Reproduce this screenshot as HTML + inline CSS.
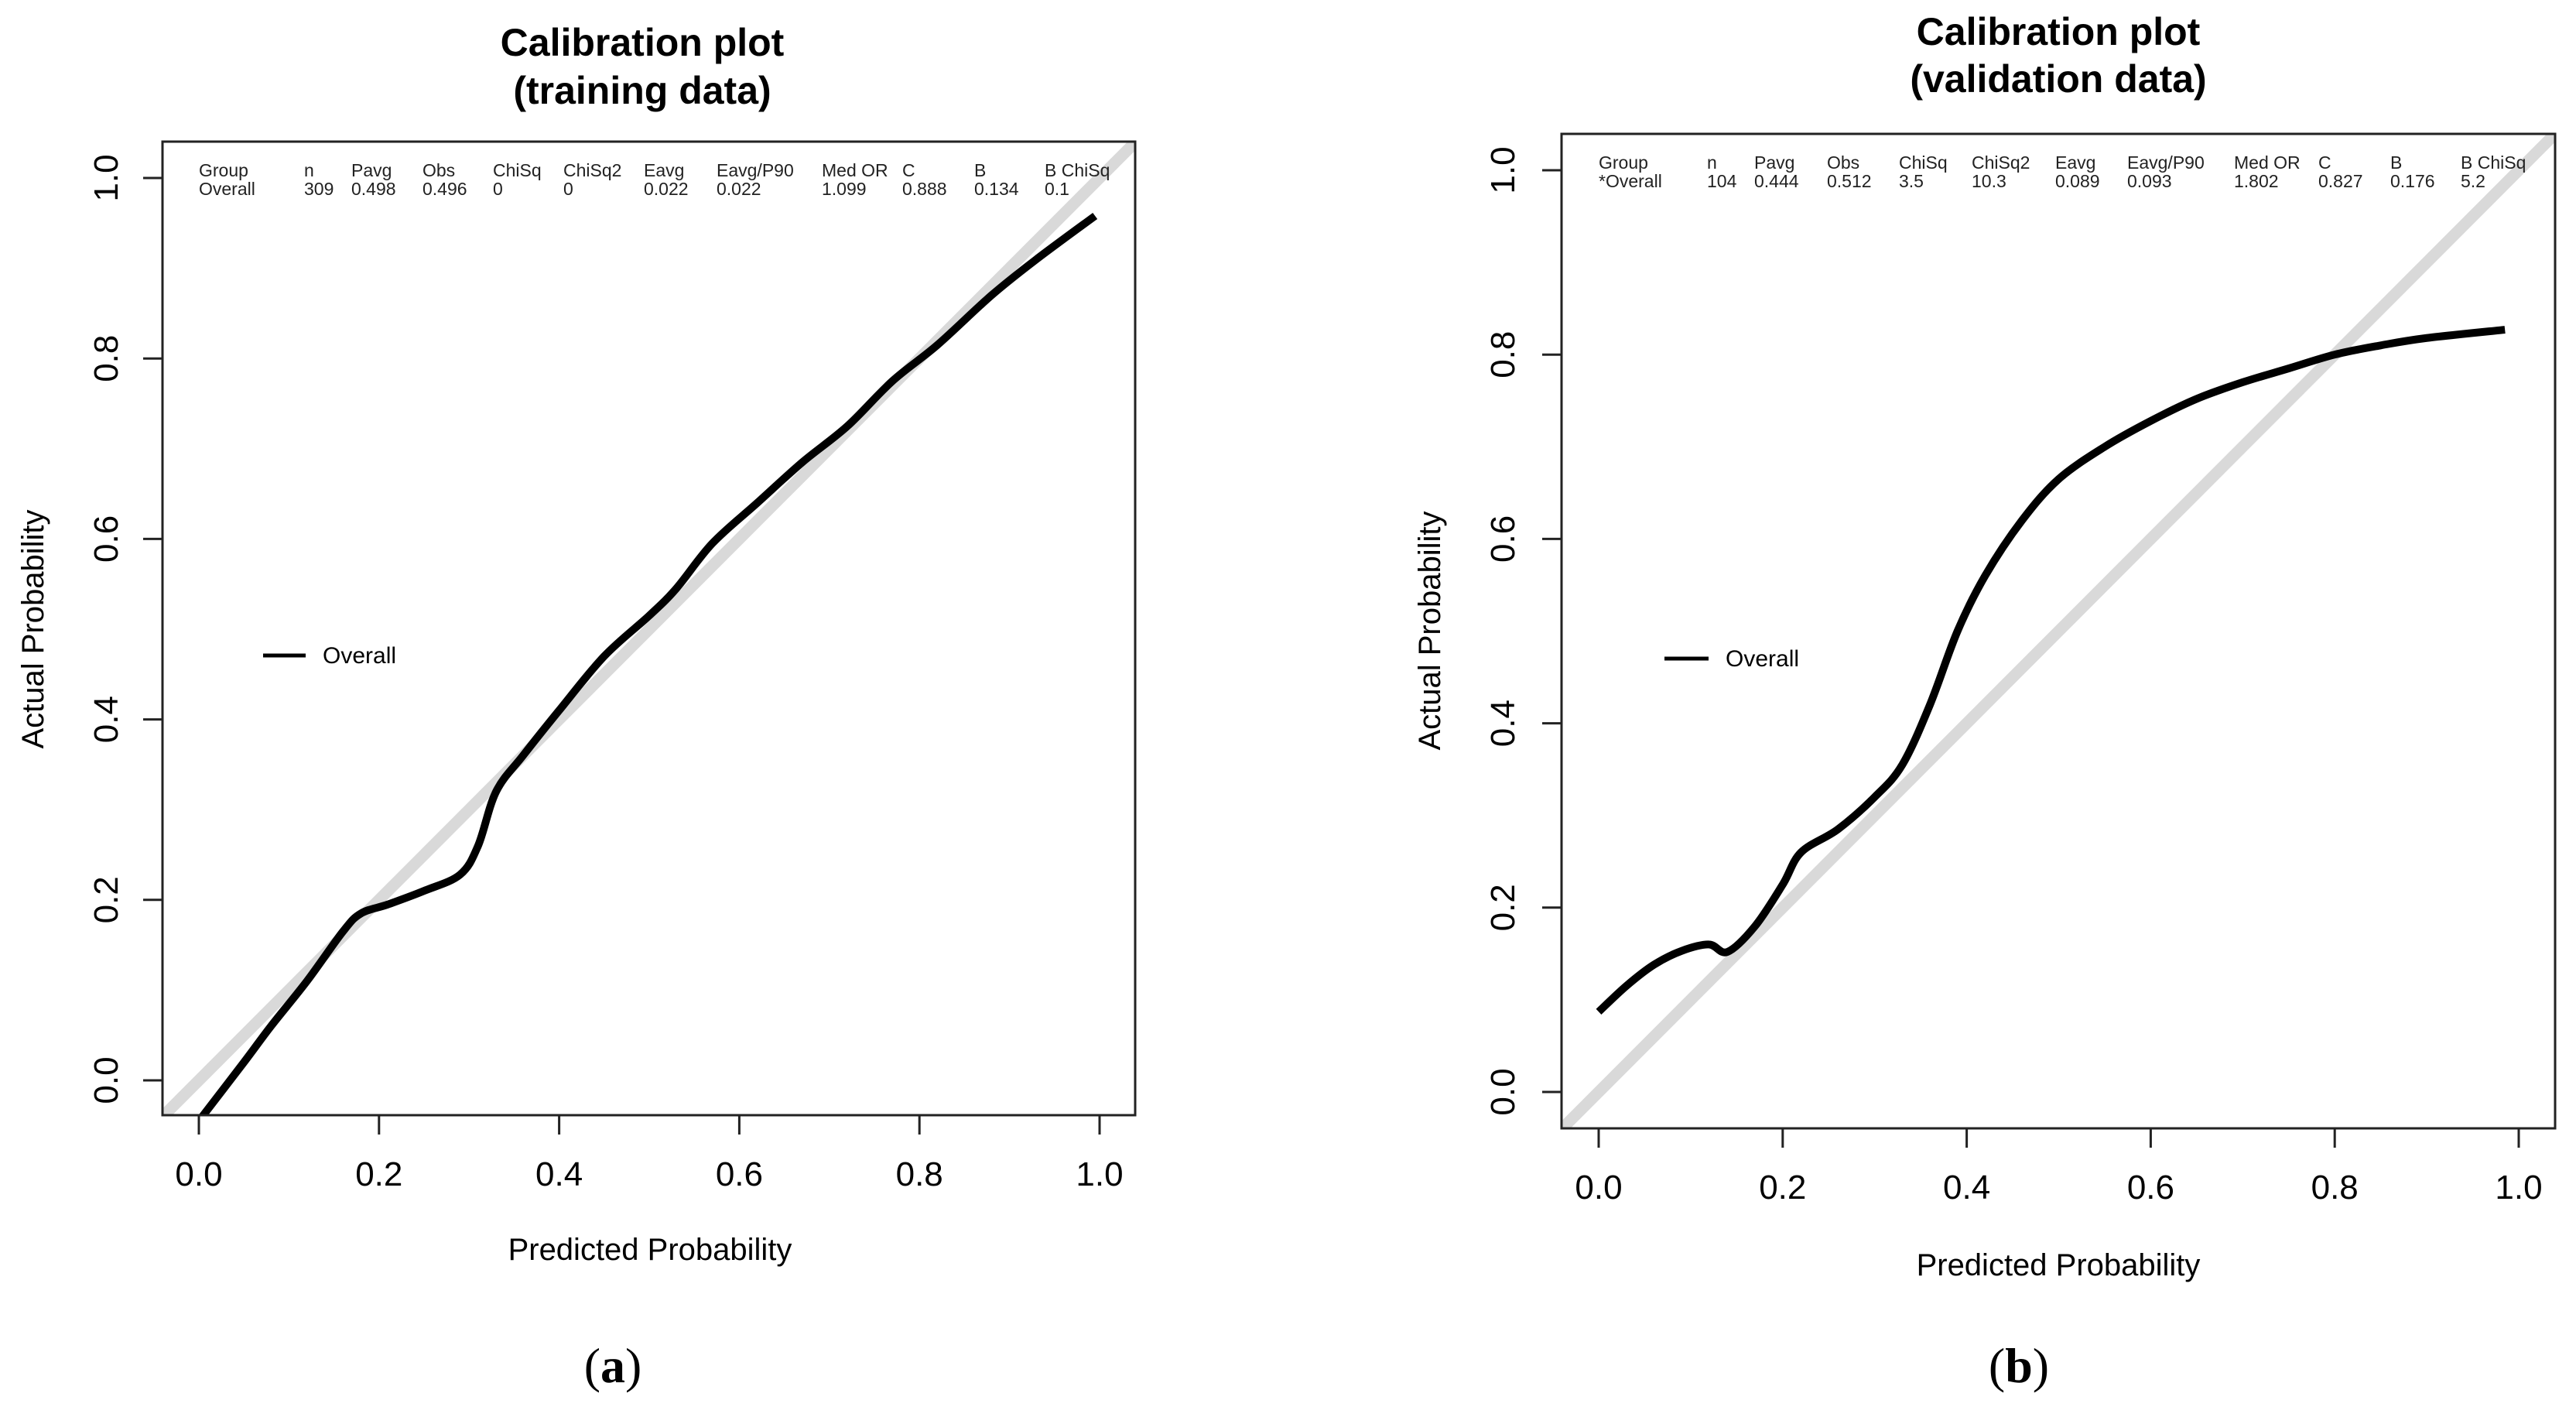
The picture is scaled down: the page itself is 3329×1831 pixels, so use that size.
<!DOCTYPE html>
<html><head><meta charset="utf-8"><style>
body{margin:0;background:#fff;}
svg text{font-family:"Liberation Sans",Arial,sans-serif;}
svg text.serif{font-family:"Liberation Serif",serif;}
</style></head><body>
<svg id="s" width="3329" height="1826" xmlns="http://www.w3.org/2000/svg">
<defs>
<clipPath id="ca"><rect x="210" y="183" width="1257" height="1258"/></clipPath>
<clipPath id="cb"><rect x="2018" y="173" width="1284" height="1285"/></clipPath>
</defs>
</svg>
<script>
const trainX=[0.0,0.05,0.08,0.12,0.16,0.18,0.21,0.25,0.29,0.31,0.33,0.36,0.40,0.45,0.5,0.53,0.57,0.62,0.67,0.72,0.77,0.82,0.88,0.93,0.995];
const trainY=[-0.045,0.02,0.06,0.11,0.165,0.185,0.195,0.21,0.228,0.26,0.32,0.36,0.41,0.47,0.515,0.545,0.595,0.64,0.685,0.725,0.775,0.815,0.87,0.91,0.958];
const validX=[0.0,0.03,0.06,0.09,0.12,0.14,0.17,0.2,0.22,0.26,0.3,0.33,0.36,0.39,0.42,0.46,0.5,0.55,0.6,0.65,0.7,0.75,0.8,0.85,0.9,0.985];
const validY=[0.087,0.115,0.138,0.153,0.16,0.152,0.18,0.225,0.26,0.285,0.32,0.355,0.42,0.5,0.56,0.62,0.665,0.7,0.728,0.752,0.77,0.785,0.8,0.81,0.818,0.827];
const ticks=[0,0.2,0.4,0.6,0.8,1.0];
const tickLabels=["0.0","0.2","0.4","0.6","0.8","1.0"];
const statHead=["Group","n","Pavg","Obs","ChiSq","ChiSq2","Eavg","Eavg/P90","Med OR","C","B","B ChiSq"];
const statTrain=[" Overall","309","0.498","0.496","0","0","0.022","0.022","1.099","0.888","0.134","0.1"];
const statValid=["*Overall","104","0.444","0.512","3.5","10.3","0.089","0.093","1.802","0.827","0.176","5.2"];
const svg=document.getElementById('s');
const NS='http://www.w3.org/2000/svg';
function mk(tag,attrs,parent){const e=document.createElementNS(NS,tag);for(const k in attrs)e.setAttribute(k,attrs[k]);(parent||svg).appendChild(e);return e;}
function panel(p){
  const sx=v=>p.x0+(p.x1-p.x0)*v, sy=v=>p.y0+(p.y1-p.y0)*v;
  const g=mk('g',{});
  
  
  let t=mk('text',{x:p.cx,y:p.ty1,'text-anchor':'middle','font-size':50,'font-weight':'bold'},g);t.textContent='Calibration plot';
  
  t=mk('text',{x:p.cx,y:p.ty2,'text-anchor':'middle','font-size':50,'font-weight':'bold'},g);t.textContent=p.sub;
  
  let d=mk('line',{x1:sx(-0.1),y1:sy(-0.1),x2:sx(1.1),y2:sy(1.1),stroke:'#d9d9d9','stroke-width':15,'clip-path':'url(#'+p.clip+')'},g);
  
  let pts=p.xs.map((v,i)=>[sx(v),sy(p.ys[i])]);
  let path='M'+pts[0][0]+','+pts[0][1];
  for(let i=0;i<pts.length-1;i++){const a=pts[Math.max(0,i-1)],b=pts[i],c=pts[i+1],e=pts[Math.min(pts.length-1,i+2)];
    path+=' C'+(b[0]+(c[0]-a[0])/6)+','+(b[1]+(c[1]-a[1])/6)+' '+(c[0]-(e[0]-b[0])/6)+','+(c[1]-(e[1]-b[1])/6)+' '+c[0]+','+c[1];}
  let c=mk('path',{d:path,fill:'none',stroke:'#000','stroke-width':10,'stroke-linejoin':'round','clip-path':'url(#'+p.clip+')'},g);
  
  let b=mk('rect',{x:p.bx0,y:p.by0,width:p.bx1-p.bx0,height:p.by1-p.by0,fill:'none',stroke:'#222','stroke-width':3},g);
  
  ticks.forEach((v,i)=>{
    let l=mk('line',{x1:sx(v),y1:p.by1,x2:sx(v),y2:p.by1+25,stroke:'#222','stroke-width':3},g);
    
    let tx=mk('text',{x:sx(v),y:p.xly,'text-anchor':'middle','font-size':44},g);tx.textContent=tickLabels[i];
    
    l=mk('line',{x1:p.bx0,y1:sy(v),x2:p.bx0-25,y2:sy(v),stroke:'#222','stroke-width':3},g);
    
    tx=mk('text',{x:p.ylx,y:sy(v),'text-anchor':'middle','font-size':44,transform:'rotate(-90 '+p.ylx+' '+sy(v)+')'},g);tx.textContent=tickLabels[i];
    
  });
  t=mk('text',{x:p.cx2,y:p.xty,'text-anchor':'middle','font-size':40},g);t.textContent='Predicted Probability';
  
  t=mk('text',{x:p.ytx,y:p.yty,'text-anchor':'middle','font-size':40,transform:'rotate(-90 '+p.ytx+' '+p.yty+')'},g);t.textContent='Actual Probability';
  
  statHead.forEach((h,i)=>{
    let a=mk('text',{x:p.cols[i],y:p.r1,'font-size':23,fill:'#222','xml:space':'preserve'},g);a.textContent=h;
    
    a=mk('text',{x:p.cols[i],y:p.r2,'font-size':23,fill:'#222','xml:space':'preserve'},g);a.textContent=p.stats[i];
    
  });
  let ll=mk('line',{x1:p.lg[0],y1:p.lg[2],x2:p.lg[1],y2:p.lg[2],stroke:'#000','stroke-width':5},g);
  
  t=mk('text',{x:p.lg[1]+22,y:p.lg[2]+10,'font-size':30},g);t.textContent='Overall';
  
  t=mk('text',{x:p.lbx,y:1786,'text-anchor':'middle','font-size':64,'class':'serif'},g);
  
  t.innerHTML='(<tspan font-weight="bold">'+p.lab+'</tspan>)';
}
panel({name:'training-panel',x0:257,x1:1421,y0:1396,y1:230,bx0:210,bx1:1467,by0:183,by1:1441,clip:'ca',xs:trainX,ys:trainY,
  sub:'(training data)',cx:830,ty1:72,ty2:134,xly:1532,ylx:152,cx2:840,xty:1628,ytx:56,yty:813,
  cols:[257,393,454,546,637,728,832,926,1062,1166,1259,1350],r1:228,r2:252,stats:statTrain,lg:[340,395,847],lbx:792,lab:'a'});
panel({name:'validation-panel',x0:2066,x1:3255,y0:1411,y1:220,bx0:2018,bx1:3302,by0:173,by1:1458,clip:'cb',xs:validX,ys:validY,
  sub:'(validation data)',cx:2660,ty1:58,ty2:119,xly:1549,ylx:1957,cx2:2660,xty:1648,ytx:1861,yty:815,
  cols:[2066,2206,2267,2361,2454,2548,2656,2749,2887,2996,3089,3180],r1:218,r2:242,stats:statValid,lg:[2151,2208,851],lbx:2609,lab:'b'});
</script>
</body></html>
